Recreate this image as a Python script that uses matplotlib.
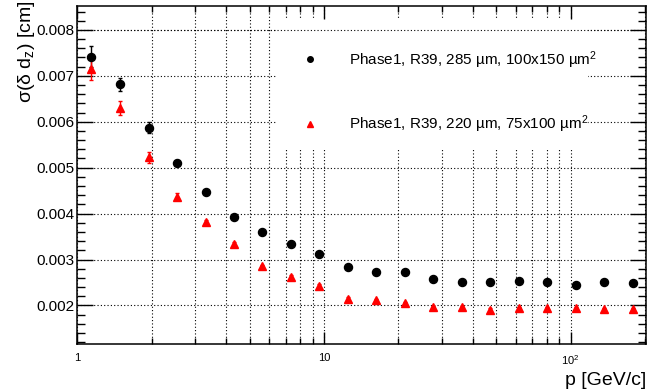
import numpy as np
import matplotlib
matplotlib.use('Agg')
import matplotlib.pyplot as plt
from matplotlib.patches import Rectangle
from matplotlib.lines import Line2D
from matplotlib.ticker import LogLocator, NullFormatter, MultipleLocator

plt.rcParams['font.family'] = 'Liberation Sans'
plt.rcParams['mathtext.fontset'] = 'custom'
plt.rcParams['mathtext.rm'] = 'Liberation Sans'
plt.rcParams['mathtext.it'] = 'Liberation Sans:italic'
plt.rcParams['mathtext.default'] = 'regular'

# momentum bin centres [GeV/c]
p = [1.14, 1.49, 1.95, 2.53, 3.31, 4.30, 5.62, 7.33, 9.55, 12.5,
     16.2, 21.3, 27.7, 36.3, 47.1, 61.8, 80.1, 105, 136, 179]

# 285 um, 100x150 um^2
sig_285 = [0.00742, 0.00682, 0.00587, 0.00511, 0.00447, 0.00393, 0.00361, 0.00333,
           0.00312, 0.00283, 0.00273, 0.00273, 0.00258, 0.00252, 0.00251, 0.00254,
           0.00251, 0.00245, 0.00252, 0.00249]
err_285 = [0.00022, 0.00014, 0.00012, 0.00005, 0.00004, 0.00004, 0.00003, 0.00003,
           0.00003, 0.00003, 0.00003, 0.00003, 0.00003, 0.00003, 0.00003, 0.00003,
           0.00003, 0.00003, 0.00003, 0.00003]

# 220 um, 75x100 um^2
sig_220 = [0.00714, 0.00630, 0.00523, 0.00437, 0.00381, 0.00334, 0.00285, 0.00263,
           0.00243, 0.00215, 0.00212, 0.00205, 0.00196, 0.00196, 0.00191, 0.00194,
           0.00194, 0.00194, 0.00192, 0.00192]
err_220 = [0.00024, 0.00016, 0.00012, 0.00007, 0.00005, 0.00004, 0.00004, 0.00003,
           0.00003, 0.00003, 0.00003, 0.00003, 0.00003, 0.00003, 0.00003, 0.00003,
           0.00003, 0.00003, 0.00003, 0.00003]

label_285 = "Phase1, R39, 285 µm, 100x150 µm$^{2}$"
label_220 = "Phase1, R39, 220 µm, 75x100 µm$^{2}$"

grid_ls = (0, (1, 2))

fig = plt.figure(figsize=(6.66, 3.90), dpi=100)
ax = fig.add_axes([0.1161, 0.1167, 0.8539, 0.8679])

ax.errorbar(p, sig_285, yerr=err_285, fmt='o', color='black', ms=5.8,
            capsize=1.5, elinewidth=1, zorder=3)
ax.errorbar(p, sig_220, yerr=err_220, fmt='^', color='red', ms=6,
            capsize=1.5, elinewidth=1, zorder=3)

ax.set_xscale('log')
ax.set_xlim(1, 202)
ax.set_ylim(0.00115, 0.00852)

ax.set_xticks([1, 10, 100])
ax.set_xticklabels(['1', '10', '$10^{2}$'])
ax.xaxis.set_minor_locator(LogLocator(base=10, subs=np.arange(2, 10)))
ax.xaxis.set_minor_formatter(NullFormatter())
ax.yaxis.set_major_locator(MultipleLocator(0.001))
ax.yaxis.set_minor_locator(MultipleLocator(0.0002))
ax.yaxis.set_major_formatter(plt.FormatStrFormatter('%.3f'))

ax.set_axisbelow(True)
ax.grid(True, which='both', axis='x', ls=grid_ls, color='black', lw=0.8)
ax.grid(True, which='major', axis='y', ls=grid_ls, color='black', lw=0.8)

ax.tick_params(which='both', direction='in', top=True, right=True, width=1)
ax.tick_params(axis='x', which='major', length=9, labelsize=8, pad=6)
ax.tick_params(axis='x', which='minor', length=4.5)
ax.tick_params(axis='y', which='major', length=11.5, labelsize=11, pad=2)
ax.tick_params(axis='y', which='minor', length=5.8)
for s in ax.spines.values():
    s.set_linewidth(1.1)

# legend box hides the grid behind it
ax.add_patch(Rectangle((0.351, 0.5746), 0.547, 0.384, transform=ax.transAxes,
                       facecolor='white', edgecolor='none', zorder=1))
ax.axhline(0.008, ls=grid_ls, color='black', lw=0.8, zorder=1.5)

handles = [Line2D([], [], marker='o', ls='none', color='black', ms=4),
           Line2D([], [], marker='^', ls='none', color='red', ms=4.5)]
ax.legend(handles, [label_285, label_220], loc='center left',
          bbox_to_anchor=(0.382, 0.746), frameon=False, fontsize=11,
          handlelength=2, handletextpad=1.55, labelspacing=2.8,
          borderpad=0, borderaxespad=0)

ax.set_xlabel('p [GeV/c]', fontsize=14, loc='right')
ax.xaxis.set_label_coords(1.0, -0.08)
ax.set_ylabel('σ(δ d$_{z}$) [cm]', fontsize=14, loc='top')
ax.yaxis.set_label_coords(-0.071, 1.015)

fig.savefig('out.png', dpi=100)
